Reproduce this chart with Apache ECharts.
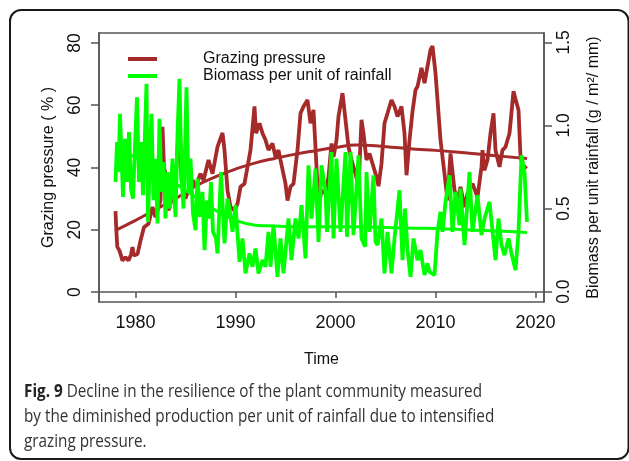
<!DOCTYPE html>
<html>
<head>
<meta charset="utf-8">
<script src="https://cdn.jsdelivr.net/npm/echarts@6/dist/echarts.min.js"></script>
<style>
html,body{margin:0;padding:0;background:#fff;}
#c{width:629px;height:461px;}
</style>
</head>
<body>
<div id="c"></div>
<script>
// ---- data ----
const grazingYears = [1978.00,1978.08,1978.18,1978.4,1978.7,1979.0,1979.3,1979.55,1979.7,1979.85,1980.2,1980.5,1980.85,1981.3,1981.7,1982.0,1982.2,1982.5,1982.7,1982.85,1983.0,1983.3,1983.8,1984.1,1984.4,1984.6,1985.0,1985.3,1985.7,1986.0,1986.5,1986.8,1987.3,1987.7,1988.2,1988.7,1988.9,1989.2,1989.5,1989.9,1990.2,1990.5,1990.9,1991.2,1991.5,1991.9,1992.05,1992.4,1992.7,1993.0,1993.3,1993.7,1994.0,1994.3,1994.5,1995.0,1995.2,1995.5,1995.8,1996.2,1996.5,1996.8,1997.2,1997.5,1997.8,1998.1,1998.3,1998.6,1999.0,1999.3,1999.6,1999.8,2000.1,2000.3,2000.7,2001.0,2001.3,2001.6,2002.0,2002.3,2002.6,2002.8,2003.1,2003.4,2003.8,2004.1,2004.3,2004.6,2004.9,2005.2,2005.6,2005.9,2006.2,2006.6,2006.9,2007.1,2007.4,2007.7,2008.0,2008.2,2008.6,2008.9,2009.2,2009.5,2009.7,2010.0,2010.2,2010.5,2010.9,2011.2,2011.5,2011.9,2012.2,2012.5,2012.9,2013.2,2013.7,2014.2,2014.6,2014.7,2014.9,2015.2,2015.5,2015.8,2016.0,2016.4,2016.7,2017.0,2017.4,2017.8,2018.0,2018.3,2018.5,2018.8,2019.1];
const grazingValues = [26,20,14.5,13.3,10.1,11.2,10.1,12,14.4,11.7,12.2,16.5,20.8,21.9,27.3,24,24.5,29.4,53.1,40,38,26.2,31.6,40,58,35.9,30,32.7,36,33.8,38,35.9,42.4,38,46.6,51.1,45.6,32.7,27.3,26.2,28.4,33.8,34.8,40.2,45.6,59.6,51,54.2,51,48.8,45.6,47.7,43.4,45.6,42.4,34.8,29.4,33.8,34.8,45.6,57.4,59.6,61.7,54.2,58.5,40.2,27.3,32.7,31.6,37,47.7,43.4,48.8,56.4,63.9,55.3,46.6,42.4,38,33.8,55.3,51,42.4,44.5,40.2,37,34,41.3,54.2,57.4,61.7,59.6,56.4,59.6,51,37.5,48.8,58,64.9,66,72,67.1,72.5,77.8,79,70.3,61.7,48.8,38,29.4,44.5,32.7,29.4,33.8,27.3,31.6,34.8,30.5,40.2,45.6,39.1,42.4,51,57.4,45.6,40.2,45.6,46.6,51,64.5,62,58.5,43.4,39.5,40.5];

const biomassYears = [1978.00,1978.15,1978.30,1978.45,1978.60,1978.75,1978.95,1979.15,1979.35,1979.55,1979.75,1979.95,1980.15,1980.35,1980.55,1980.75,1981.10,1981.25,1981.45,1981.60,1981.80,1982.00,1982.20,1982.40,1982.60,1982.80,1983.00,1983.20,1983.45,1983.70,1984.00,1984.20,1984.40,1984.60,1984.80,1985.10,1985.30,1985.50,1985.75,1986.00,1986.20,1986.45,1986.70,1986.90,1987.15,1987.35,1987.55,1987.75,1988.05,1988.20,1988.55,1988.90,1989.20,1989.40,1989.70,1990.00,1990.40,1990.70,1991.00,1991.40,1991.70,1992.00,1992.30,1992.70,1993.00,1993.30,1993.50,1993.80,1994.20,1994.50,1994.80,1995.30,1995.60,1996.00,1996.30,1996.60,1997.00,1997.30,1997.60,1998.00,1998.30,1998.60,1999.00,1999.15,1999.60,1999.80,2000.10,2000.50,2001.00,2001.15,2001.50,2001.80,2002.30,2002.60,2002.97,2003.10,2003.40,2003.80,2004.00,2004.20,2004.60,2004.90,2005.20,2005.60,2005.90,2006.40,2006.70,2006.95,2007.20,2007.50,2007.80,2008.00,2008.20,2008.50,2008.90,2009.20,2009.40,2009.90,2010.20,2010.50,2010.70,2011.00,2011.40,2011.70,2012.00,2012.40,2012.50,2012.90,2013.40,2013.70,2014.20,2014.60,2014.90,2015.40,2016.00,2016.30,2016.60,2016.90,2017.30,2017.60,2018.00,2018.30,2018.60,2018.90,2019.15];
const biomassValues = [0.66,0.90,0.72,1.07,0.82,0.57,0.92,0.66,0.96,0.62,0.56,0.88,1.17,0.66,0.90,0.58,1.25,0.42,0.85,1.07,0.55,0.80,0.41,1.04,0.60,0.78,0.44,0.72,0.50,0.80,0.45,0.95,1.28,0.70,0.50,1.23,0.60,0.80,0.47,0.37,0.68,0.45,0.60,0.25,0.55,0.44,0.66,0.36,0.32,0.23,0.72,0.29,0.56,0.50,0.36,0.52,0.18,0.32,0.11,0.23,0.15,0.26,0.11,0.19,0.15,0.36,0.15,0.40,0.09,0.32,0.11,0.44,0.19,0.44,0.32,0.52,0.20,0.76,0.44,0.74,0.30,0.76,0.60,0.36,0.84,0.32,0.80,0.36,0.84,0.33,0.84,0.34,0.82,0.32,0.27,0.72,0.36,0.70,0.30,0.28,0.44,0.11,0.36,0.11,0.32,0.61,0.19,0.50,0.25,0.09,0.32,0.31,0.19,0.25,0.10,0.17,0.12,0.10,0.36,0.48,0.36,0.54,0.70,0.36,0.60,0.40,0.62,0.28,0.72,0.36,0.58,0.34,0.44,0.54,0.19,0.44,0.28,0.22,0.32,0.23,0.13,0.36,0.82,0.72,0.42];

const trendYears = [1978,1980,1982,1984,1986,1988,1990,1992,1994,1996,1998,2000,2002,2004,2006,2008,2010,2012,2014,2016,2018,2019.15];
const grazingTrend = [19.8,23,26.5,30,34,37,39.5,41.5,43,44.3,45.4,46.4,47.2,47,46.4,45.9,45.5,45,44.4,43.8,43.2,42.9];
const biomassTrend = [0.85,0.81,0.73,0.65,0.57,0.49,0.43,0.40,0.395,0.39,0.39,0.39,0.39,0.388,0.385,0.382,0.38,0.375,0.37,0.365,0.36,0.355];

const xTicks = [1980,1990,2000,2010,2020];
const leftTicks = [0,20,40,60,80];
const rightTicks = [0,0.5,1.0,1.5];

const seriesNames = ['Grazing pressure','Biomass per unit of rainfall'];
const captionBold = 'Fig. 9';
const captionLines = [' Decline in the resilience of the plant community measured','by the diminished production per unit of rainfall due to intensified','grazing pressure.'];

// ---- build ----
const zip = (xs, ys) => xs.map((x, i) => [x, ys[i]]);
const RED = '#A52A2A', GREEN = '#00FF00', AX = '#555';

// caption horizontal scale to match narrow caption face
const cv = document.createElement('canvas').getContext('2d');
cv.font = 'bold 18px "Open Sans"';
let w = cv.measureText(captionBold).width;
cv.font = '18px "Open Sans"';
w += cv.measureText(captionLines[0]).width;
const sx = 458 / w;

const chart = echarts.init(document.getElementById('c'), null, {renderer: 'canvas'});
const axisFont = {fontFamily: 'Liberation Sans, Arial, sans-serif', color: '#111'};

chart.setOption({
  animation: false,
  backgroundColor: '#fff',
  grid: {left: 99, top: 33, right: 85, bottom: 159, show: true, borderColor: AX, borderWidth: 1.5, backgroundColor: 'transparent'},
  legend: [
    {data: [seriesNames[0]], left: 123, top: 43.5, orient: 'vertical', icon: 'rect', itemWidth: 29, itemHeight: 4,
     textStyle: Object.assign({fontSize: 16, lineHeight: 16, padding: [5, 0, 0, 41]}, axisFont), selectedMode: false},
    {data: [seriesNames[1]], left: 123, top: 60.5, orient: 'vertical', icon: 'rect', itemWidth: 29, itemHeight: 4,
     textStyle: Object.assign({fontSize: 16, lineHeight: 16, padding: [5, 0, 0, 41]}, axisFont), selectedMode: false}
  ],
  xAxis: {
    type: 'value', min: 1976.35, max: 2020.85,
    name: 'Time', nameLocation: 'middle', nameGap: 50,
    nameTextStyle: Object.assign({fontSize: 16}, axisFont),
    axisLine: {show: true, lineStyle: {color: AX, width: 1.5}},
    axisTick: {show: true, length: 6, lineStyle: {color: AX, width: 1.5}, customValues: xTicks},
    axisLabel: Object.assign({fontSize: 18, margin: 12, customValues: xTicks, formatter: v => String(v)}, axisFont),
    splitLine: {show: false}
  },
  yAxis: [
    {
      type: 'value', min: -3.2, max: 83.2, position: 'left',
      name: 'Grazing pressure ( % )', nameLocation: 'middle', nameGap: 42,
      nameTextStyle: Object.assign({fontSize: 16}, axisFont),
      axisLine: {show: true, lineStyle: {color: AX, width: 1.5}},
      axisTick: {show: true, length: 8, lineStyle: {color: AX, width: 1.5}, customValues: leftTicks},
      axisLabel: Object.assign({fontSize: 17.5, margin: 15, rotate: 90, customValues: leftTicks, formatter: v => String(v)}, axisFont),
      splitLine: {show: false}
    },
    {
      type: 'value', min: -0.062, max: 1.556, position: 'right',
      name: 'Biomass per unit rainfall (g / m\u00B2/ mm)', nameLocation: 'middle', nameGap: 42,
      nameTextStyle: Object.assign({fontSize: 16}, axisFont),
      axisLine: {show: true, lineStyle: {color: AX, width: 1.5}},
      axisTick: {show: true, length: 8, lineStyle: {color: AX, width: 1.5}, customValues: rightTicks},
      axisLabel: Object.assign({fontSize: 17.5, margin: 11, rotate: 90, customValues: rightTicks,
        formatter: v => v.toFixed(1)}, axisFont),
      splitLine: {show: false}
    }
  ],
  series: [
    {name: seriesNames[0], type: 'line', yAxisIndex: 0, data: zip(grazingYears, grazingValues), showSymbol: false,
     lineStyle: {color: RED, width: 3.8}, itemStyle: {color: RED}},
    {name: 'gtrend', type: 'line', yAxisIndex: 0, data: zip(trendYears, grazingTrend), showSymbol: false, smooth: true,
     lineStyle: {color: RED, width: 3}, itemStyle: {color: RED}},
    {name: seriesNames[1], type: 'line', yAxisIndex: 1, data: zip(biomassYears, biomassValues), showSymbol: false,
     lineStyle: {color: GREEN, width: 3.8}, itemStyle: {color: GREEN}},
    {name: 'btrend', type: 'line', yAxisIndex: 1, data: zip(trendYears, biomassTrend), showSymbol: false, smooth: true,
     lineStyle: {color: GREEN, width: 3}, itemStyle: {color: GREEN}}
  ],
  graphic: [
    {type: 'rect', shape: {x: 10, y: 10, width: 618.5, height: 449, r: 11}, style: {fill: 'none', stroke: '#1a1a1a', lineWidth: 2}, silent: true},
    {type: 'text', x: 24, y: 392, scaleX: sx, style: {
      text: '{b|' + captionBold + '}' + captionLines[0], font: '18px "Open Sans"', fill: '#333', verticalAlign: 'middle', align: 'left',
      rich: {b: {font: 'bold 18px "Open Sans"', fill: '#222'}}}},
    {type: 'text', x: 24, y: 417, scaleX: sx, style: {text: captionLines[1], font: '18px "Open Sans"', fill: '#333', verticalAlign: 'middle', align: 'left'}},
    {type: 'text', x: 24, y: 442, scaleX: sx, style: {text: captionLines[2], font: '18px "Open Sans"', fill: '#333', verticalAlign: 'middle', align: 'left'}}
  ]
});
</script>
</body>
</html>
